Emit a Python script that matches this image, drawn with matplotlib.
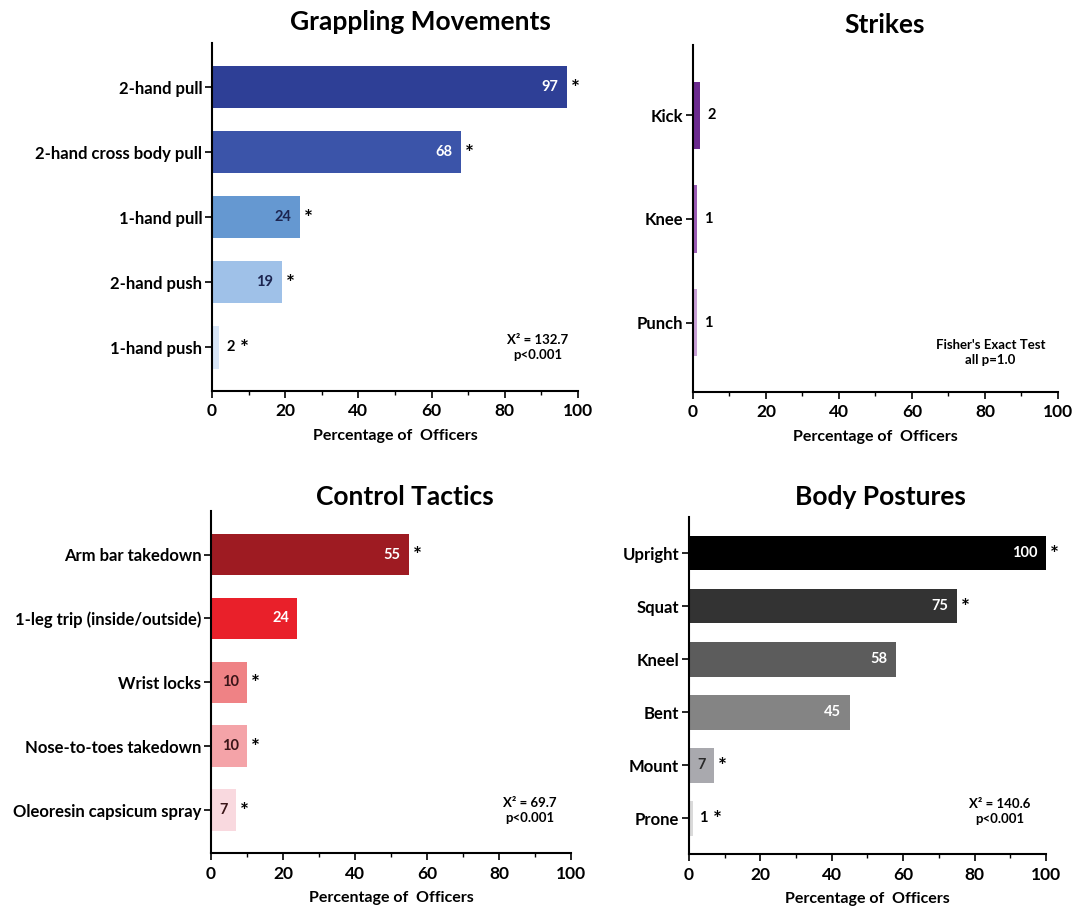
import matplotlib
matplotlib.use("Agg")
import matplotlib.pyplot as plt
import numpy as np

plt.rcParams['font.family'] = ['Lato', 'DejaVu Sans']
plt.rcParams['font.weight'] = 'bold'

# ---- data ----
grapple_labels = ["2-hand pull", "2-hand cross body pull", "1-hand pull", "2-hand push", "1-hand push"]
grapple_values = [97, 68, 24, 19, 2]
grapple_sig = [True, True, True, True, True]
grapple_colors = ["#2e3f96", "#3b54a9", "#6598d1", "#9fc1e8", "#d8e5f6"]
grapple_inside = [True, True, True, True, False]
grapple_text_colors = ["white", "white", "#1c2550", "#1c2550", "black"]

strike_labels = ["Kick", "Knee", "Punch"]
strike_values = [2, 1, 1]
strike_sig = [False, False, False]
strike_colors = ["#6b2a8e", "#9c5cb5", "#c9a0d6"]
strike_inside = [False, False, False]
strike_text_colors = ["black", "black", "black"]

control_labels = ["Arm bar takedown", "1-leg trip (inside/outside)", "Wrist locks",
                  "Nose-to-toes takedown", "Oleoresin capsicum spray"]
control_values = [55, 24, 10, 10, 7]
control_sig = [True, False, True, True, True]
control_colors = ["#9e1b22", "#e9202a", "#ef8285", "#f4a3a8", "#f9d9df"]
control_inside = [True, True, True, True, True]
control_text_colors = ["white", "white", "#3a1518", "#3a1518", "#3a1518"]

posture_labels = ["Upright", "Squat", "Kneel", "Bent", "Mount", "Prone"]
posture_values = [100, 75, 58, 45, 7, 1]
posture_sig = [True, True, False, False, True, True]
posture_colors = ["#000000", "#333333", "#5c5c5c", "#848484", "#a9a9ae", "#dadada"]
posture_inside = [True, True, True, True, True, False]
posture_text_colors = ["white", "white", "white", "white", "#2a2a2a", "black"]

x_ticks = [0, 20, 40, 60, 80, 100]
x_label = "Percentage of  Officers"

panels = [
    dict(title="Grappling Movements", labels=grapple_labels, values=grapple_values,
         sig=grapple_sig, colors=grapple_colors, inside=grapple_inside,
         tcol=grapple_text_colors, rect=[0.1970, 0.5699, 0.3401, 0.3828],
         title_xy=(420, 22), note=("X\u00b2 = 132.7\np<0.001"), note_xy=(89, 4.0)),
    dict(title="Strikes", labels=strike_labels, values=strike_values,
         sig=strike_sig, colors=strike_colors, inside=strike_inside,
         tcol=strike_text_colors, rect=[0.6440, 0.5688, 0.3392, 0.3817],
         title_xy=(885, 25), note="Fisher's Exact Test\nall p=1.0", note_xy=(81.5, 2.29)),
    dict(title="Control Tactics", labels=control_labels, values=control_values,
         sig=control_sig, colors=control_colors, inside=control_inside,
         tcol=control_text_colors, rect=[0.1961, 0.0616, 0.3346, 0.3762],
         title_xy=(405, 497), note="X\u00b2 = 69.7\np<0.001", note_xy=(88.6, 4.0)),
    dict(title="Body Postures", labels=posture_labels, values=posture_values,
         sig=posture_sig, colors=posture_colors, inside=posture_inside,
         tcol=posture_text_colors, rect=[0.6403, 0.0605, 0.3318, 0.3707],
         title_xy=(880, 497), note="X\u00b2 = 140.6\np<0.001", note_xy=(87, 4.87)),
]

W, H = 1076, 909
fig = plt.figure(figsize=(W / 100, H / 100), dpi=100)

for p in panels:
    ax = fig.add_axes(p["rect"])
    n = len(p["values"])
    ypos = np.arange(n)
    ax.barh(ypos, p["values"], height=0.65, color=p["colors"], zorder=2)
    ax.set_xlim(0, 100)
    ax.set_ylim(n - 1 + 0.67, -0.68)
    ax.set_yticks(ypos)
    ax.set_yticklabels(p["labels"], fontsize=12, fontweight='bold')
    ax.set_xticks(x_ticks)
    ax.set_xticks(np.arange(10, 100, 20), minor=True)
    ax.tick_params(axis='x', which='major', labelsize=12.5, length=5, width=1.2, pad=4)
    ax.tick_params(axis='x', which='minor', length=3, width=1.0)
    ax.tick_params(axis='y', length=5, width=1.2, pad=2)
    for lab in ax.get_xticklabels():
        lab.set_fontweight('bold')
    ax.set_xlabel(x_label, fontsize=11.5, fontweight='bold', labelpad=7)
    for s in ["top", "right"]:
        ax.spines[s].set_visible(False)
    for s in ["left", "bottom"]:
        ax.spines[s].set_linewidth(1.5)

    for i, (v, sig, inside, tc) in enumerate(zip(p["values"], p["sig"], p["inside"], p["tcol"])):
        if inside:
            ax.annotate(str(v), xy=(v, i), xytext=(-6, 0), textcoords='offset points',
                        ha='right', va='center', fontsize=10.5, fontweight='bold', color=tc)
            if sig:
                ax.annotate("*", xy=(v, i), xytext=(3, -1), textcoords='offset points',
                            ha='left', va='center', fontsize=15, fontweight='bold', color='black')
        else:
            ax.annotate(str(v), xy=(v, i), xytext=(5, 0), textcoords='offset points',
                        ha='left', va='center', fontsize=10.5, fontweight='bold', color=tc)
            if sig:
                ax.annotate("*", xy=(v, i), xytext=(15, -1), textcoords='offset points',
                            ha='left', va='center', fontsize=15, fontweight='bold', color='black')

    ax.text(p["note_xy"][0], p["note_xy"][1], p["note"], ha='center', va='center',
            fontsize=9.5, fontweight='bold', linespacing=1.3)

    fig.text(p["title_xy"][0] / W, 1 - p["title_xy"][1] / H, p["title"],
             ha='center', va='center', fontsize=19, fontweight='bold')

fig.savefig("out.png", dpi=100)
